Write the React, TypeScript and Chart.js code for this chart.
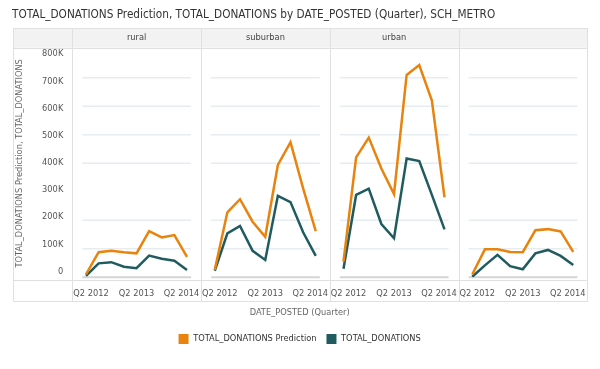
import React, { useEffect, useRef } from 'react';
import { Chart, registerables } from 'chart.js';

Chart.register(...registerables);

// ---------- data ----------
const QUARTERS = ['Q2 2012', 'Q3 2012', 'Q4 2012', 'Q1 2013', 'Q2 2013', 'Q3 2013', 'Q4 2013', 'Q1 2014', 'Q2 2014'];
const LABELED_QUARTERS = ['Q2 2012', 'Q2 2013', 'Q2 2014'];
const PANELS = ['rural', 'suburban', 'urban', ''];

const PREDICTION_RURAL = [10000, 88000, 93000, 88000, 84000, 162000, 140000, 148000, 72000];
const ACTUAL_RURAL = [5000, 49000, 53000, 37000, 32000, 76000, 65000, 58000, 26000];
const PREDICTION_SUBURBAN = [26000, 228000, 274000, 195000, 142000, 394000, 474000, 312000, 162000];
const ACTUAL_SUBURBAN = [23000, 154000, 180000, 93000, 61000, 286000, 264000, 158000, 75000];
const PREDICTION_URBAN = [55000, 421000, 490000, 382000, 292000, 710000, 745000, 620000, 281000];
const ACTUAL_URBAN = [30000, 289000, 311000, 187000, 137000, 417000, 408000, 289000, 168000];
const PREDICTION_BLANK = [10000, 98000, 98000, 89000, 88000, 165000, 169000, 161000, 89000];
const ACTUAL_BLANK = [2000, 42000, 79000, 39000, 28000, 84000, 96000, 75000, 43000];

const PREDICTION_SERIES = [PREDICTION_RURAL, PREDICTION_SUBURBAN, PREDICTION_URBAN, PREDICTION_BLANK];
const ACTUAL_SERIES = [ACTUAL_RURAL, ACTUAL_SUBURBAN, ACTUAL_URBAN, ACTUAL_BLANK];

const Y_TICKS = [0, 100000, 200000, 300000, 400000, 500000, 600000, 700000, 800000];
const Y_GRID = [100000, 200000, 400000, 500000, 600000, 700000];

const SERIES_PRED = 'TOTAL_DONATIONS Prediction';
const SERIES_ACT = 'TOTAL_DONATIONS';

// ---------- style / layout ----------
const FONT = "'Liberation Sans Narrow', 'DejaVu Sans Condensed', 'Liberation Sans', Arial, sans-serif";
const SMALL = 9.2;
const ORANGE = '#E8830E';
const TEAL = '#1F5B5F';
const GAP_L = 1.085;
const GAP_R = 1.113;
const STEPS = QUARTERS.length - 1;
const P = STEPS + GAP_L + GAP_R;

const xOf = (k: number, i: number) => k * P + i;

const tickValues: number[] = [];
PANELS.forEach((_, k) => {
  LABELED_QUARTERS.forEach((q) => tickValues.push(xOf(k, QUARTERS.indexOf(q))));
});

const labelFor = (v: number) => {
  const k = Math.floor((v + GAP_L) / P);
  const i = Math.round(v - k * P);
  return QUARTERS[i] ?? '';
};

const fmtK = (v: number) => (v === 0 ? '0' : `${Math.round(v / 1000)}K`);

const panelBounds = (xs: any) => {
  const b = PANELS.map((_, k) => xs.getPixelForValue(k * P - GAP_L));
  b.push(xs.getPixelForValue((PANELS.length - 1) * P + STEPS + GAP_R));
  return b;
};

const framePlugin = {
  id: 'frame',
  beforeDraw(chart: any) {
    const { ctx, chartArea: a, scales } = chart;
    const xs = scales.x;
    const ys = scales.y;
    const tableL = 13;
    const tableR = a.right;
    const tableT = a.top - 21;
    const headB = a.top - 1.6;
    const rowT = a.bottom + 3;
    const tableB = a.bottom + 24;
    const bounds = panelBounds(xs);
    const px = (v: number) => Math.round(v) + 0.5;

    // keep each tick label inside its panel cell
    const items = xs.getLabelItems(a);
    ctx.save();
    items.forEach((it: any) => {
      const x = it.options.translation[0];
      let k = 0;
      while (k < PANELS.length - 1 && x > bounds[k + 1]) k++;
      ctx.font = it.font.string;
      const w = ctx.measureText(String(it.label)).width;
      const lo = bounds[k] + 1 + w / 2;
      const hi = bounds[k + 1] - 1.8 - w / 2;
      const nx = Math.min(Math.max(x, lo), hi);
      it.options.translation = [nx, it.options.translation[1]];
    });
    ctx.restore();

    ctx.save();
    ctx.fillStyle = '#f2f2f2';
    ctx.fillRect(tableL, tableT, tableR - tableL, headB - tableT);

    ctx.strokeStyle = '#e0e0e0';
    ctx.lineWidth = 1;
    ctx.beginPath();
    ctx.rect(px(tableL), px(tableT), Math.round(tableR - tableL), Math.round(tableB - tableT));
    ctx.moveTo(tableL, px(headB));
    ctx.lineTo(tableR, px(headB));
    ctx.moveTo(tableL, px(rowT));
    ctx.lineTo(tableR, px(rowT));
    ctx.moveTo(px(a.left), tableT);
    ctx.lineTo(px(a.left), tableB);
    bounds.forEach((b: number) => {
      ctx.moveTo(px(b), tableT);
      ctx.lineTo(px(b), tableB);
    });
    ctx.stroke();

    PANELS.forEach((_, k) => {
      const x0 = bounds[k] + 10;
      const x1 = bounds[k + 1] - 10;
      ctx.strokeStyle = '#e7ecf1';
      ctx.lineWidth = 1.5;
      Y_GRID.forEach((v) => {
        const y = ys.getPixelForValue(v);
        ctx.beginPath();
        ctx.moveTo(x0, y);
        ctx.lineTo(x1, y);
        ctx.stroke();
      });
      ctx.strokeStyle = '#d5d5d5';
      ctx.lineWidth = 2;
      const y0 = ys.getPixelForValue(0);
      ctx.beginPath();
      ctx.moveTo(x0, y0);
      ctx.lineTo(x1, y0);
      ctx.stroke();
    });

    ctx.fillStyle = '#444';
    ctx.font = `${SMALL}px ${FONT}`;
    ctx.textAlign = 'center';
    ctx.textBaseline = 'middle';
    PANELS.forEach((name, k) => {
      ctx.fillText(name, (bounds[k] + bounds[k + 1]) / 2, (tableT + headB) / 2);
    });
    ctx.restore();
  },
};

export default function App() {
  const ref = useRef<HTMLCanvasElement>(null);

  useEffect(() => {
    if (!ref.current) return;
    Chart.defaults.font.family = FONT;
    const datasets: any[] = [];
    PANELS.forEach((_, k) => {
      datasets.push({
        label: SERIES_PRED,
        data: PREDICTION_SERIES[k].map((v, i) => ({ x: xOf(k, i), y: v })),
        borderColor: ORANGE,
        backgroundColor: ORANGE,
        borderWidth: 2.5,
        pointRadius: 0,
        tension: 0,
        yAxisID: 'y',
      });
      datasets.push({
        label: SERIES_ACT,
        data: ACTUAL_SERIES[k].map((v, i) => ({ x: xOf(k, i), y: v })),
        borderColor: TEAL,
        backgroundColor: TEAL,
        borderWidth: 2.5,
        pointRadius: 0,
        tension: 0,
        yAxisID: 'y',
      });
    });

    const chart = new Chart(ref.current, {
      type: 'line',
      data: { datasets },
      plugins: [framePlugin],
      options: {
        animation: false,
        responsive: false,
        layout: { padding: { left: 12, right: 12.7, top: 0, bottom: 15 } },
        scales: {
          x: {
            type: 'linear',
            min: -GAP_L,
            max: (PANELS.length - 1) * P + STEPS + GAP_R,
            grid: { display: false, drawTicks: false },
            border: { display: false },
            afterBuildTicks: (s: any) => {
              s.ticks = tickValues.map((v) => ({ value: v }));
            },
            afterFit: (s: any) => {
              s.height = 24;
              s.paddingLeft = 0;
              s.paddingRight = 0;
            },
            ticks: {
              autoSkip: false,
              maxRotation: 0,
              minRotation: 0,
              padding: 11,
              color: '#555',
              font: { size: SMALL },
              callback: (v: any) => labelFor(Number(v)),
            },
          },
          yl: {
            type: 'linear',
            position: 'left',
            min: -22100,
            max: 817400,
            grid: { display: false, drawTicks: false },
            border: { display: false },
            afterBuildTicks: (s: any) => {
              s.ticks = Y_TICKS.map((v) => ({ value: v }));
            },
            afterFit: (s: any) => {
              s.width = 60.3;
              s.paddingTop = 0;
              s.paddingBottom = 0;
            },
            ticks: {
              padding: 9,
              color: '#555',
              font: { size: SMALL },
              callback: (v: any) => fmtK(Number(v)),
            },
            title: {
              display: true,
              text: 'TOTAL_DONATIONS Prediction, TOTAL_DONATIONS',
              color: '#666',
              font: { size: SMALL },
              padding: { top: 2, bottom: 0 },
            },
          },
          y: {
            type: 'linear',
            display: false,
            min: 0,
            max: 800000,
          },
        },
        plugins: {
          title: {
            display: true,
            text: 'TOTAL_DONATIONS Prediction, TOTAL_DONATIONS by DATE_POSTED (Quarter), SCH_METRO',
            align: 'start',
            color: '#333',
            font: { size: 11.7, weight: 'normal' },
            padding: { top: 8, bottom: 27.26 },
          },
          subtitle: {
            display: true,
            position: 'bottom',
            text: 'DATE_POSTED (Quarter)',
            color: '#666',
            font: { size: SMALL, weight: 'normal' },
            padding: { top: 6.2, bottom: 5.46 },
            weight: 500,
          } as any,
          legend: {
            display: true,
            position: 'bottom',
            labels: {
              boxWidth: 10,
              boxHeight: 10,
              padding: 10,
              color: '#333',
              font: { size: SMALL },
              generateLabels: (c: any) =>
                (Chart.defaults.plugins.legend.labels.generateLabels as any)(c)
                  .filter((it: any) => it.datasetIndex < 2)
                  .map((it: any) => ({ ...it, lineWidth: 0 })),
            },
          },
          tooltip: { enabled: false },
        },
      } as any,
    });
    return () => chart.destroy();
  }, []);

  return (
    <div style={{ position: 'absolute', left: 0, top: 0, width: 600, height: 369, background: '#fff' }}>
      <canvas ref={ref} width={600} height={369} />
    </div>
  );
}
